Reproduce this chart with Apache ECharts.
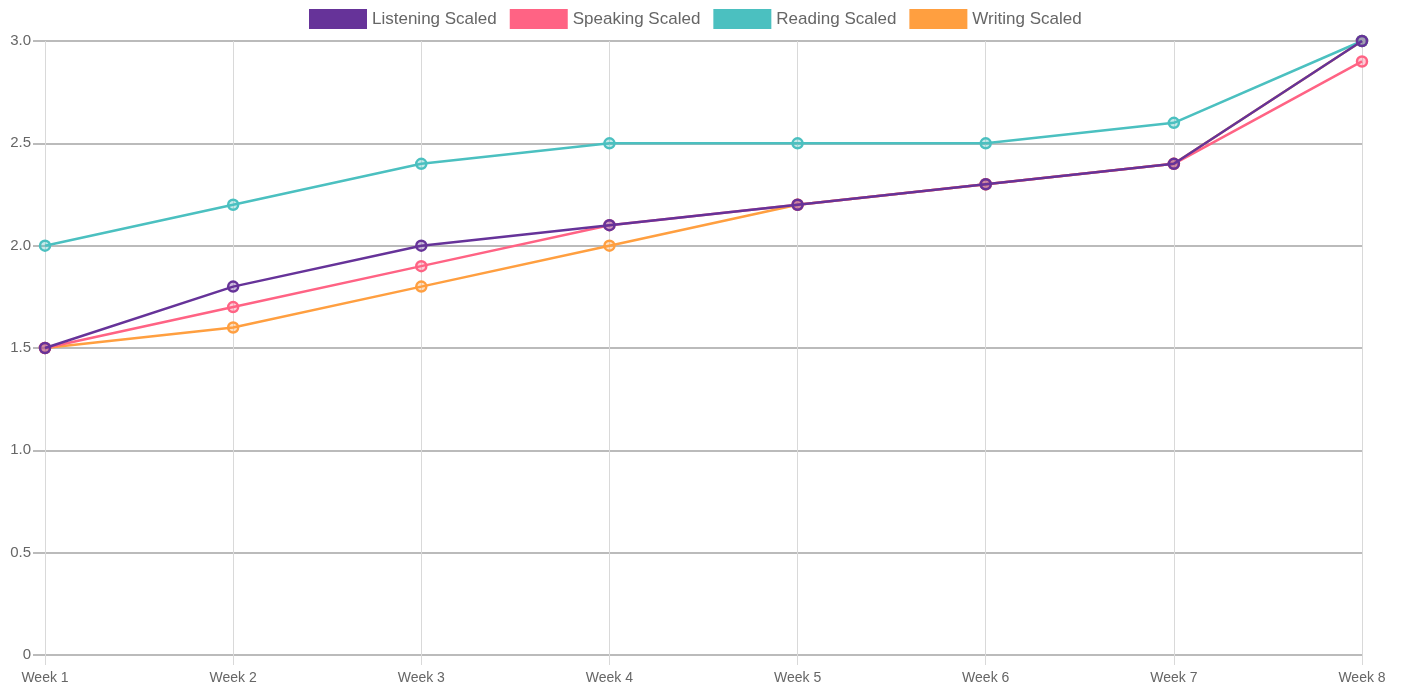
<!DOCTYPE html>
<html>
<head>
<meta charset="utf-8">
<script src="https://cdn.jsdelivr.net/npm/echarts@6/dist/echarts.min.js"></script>
<style>
  html, body { margin: 0; padding: 0; background: #fff; }
  #main { width: 1402px; height: 688px; }
</style>
</head>
<body>
<div id="main"></div>
<script>
// week labels and scaled scores
const weeks = ['Week 1', 'Week 2', 'Week 3', 'Week 4', 'Week 5', 'Week 6', 'Week 7', 'Week 8'];
const listening = [1.5, 1.8, 2.0, 2.1, 2.2, 2.3, 2.4, 3.0];
const speaking = [1.5, 1.7, 1.9, 2.1, 2.2, 2.3, 2.4, 2.9];
const reading = [2.0, 2.2, 2.4, 2.5, 2.5, 2.5, 2.6, 3.0];
const writing = [1.5, 1.6, 1.8, 2.0, 2.2, 2.3, 2.4, 3.0];

const names = ['Listening Scaled', 'Speaking Scaled', 'Reading Scaled', 'Writing Scaled'];
const colors = ['#663399', '#ff6384', '#4bc0c0', '#ff9f40'];
const values = [listening, speaking, reading, writing];

const font = 'Helvetica, "Liberation Sans", Arial, sans-serif';

function makeSeries(i) {
  return {
    name: names[i],
    type: 'line',
    data: values[i],
    z: 10 - i,
    symbol: 'circle',
    symbolSize: 10,
    lineStyle: { color: colors[i], width: 2.5 },
    itemStyle: { color: colors[i] + '55', borderColor: colors[i], borderWidth: 2.5 },
    emphasis: { disabled: true }
  };
}

const chart = echarts.init(document.getElementById('main'));
chart.setOption({
  animation: false,
  color: colors,
  legend: {
    top: 4,
    left: 304,
    itemWidth: 58,
    itemHeight: 20,
    itemGap: 13,
    icon: 'rect',
    textStyle: { fontFamily: font, fontSize: 17, color: '#666' },
    data: names.map((n, i) => ({ name: n, itemStyle: { color: colors[i], borderWidth: 0 } }))
  },
  grid: { left: 45, right: 40, top: 41, bottom: 33, containLabel: false },
  xAxis: {
    type: 'category',
    data: weeks,
    boundaryGap: false,
    axisLine: { show: false },
    axisTick: { show: true, length: 10, lineStyle: { color: '#d9d9d9' } },
    axisLabel: { fontFamily: font, fontSize: 14, color: '#666', margin: 16 },
    splitLine: { show: true, lineStyle: { color: '#d9d9d9', width: 1 } }
  },
  yAxis: {
    type: 'value',
    min: 0,
    max: 3,
    interval: 0.5,
    axisLine: { show: false },
    axisTick: { show: true, length: 12, lineStyle: { color: '#bbb', width: 2 } },
    axisLabel: {
      fontFamily: font, fontSize: 15, color: '#666', margin: 14,
      formatter: v => v === 0 ? '0' : v.toFixed(1)
    },
    splitLine: { show: true, lineStyle: { color: '#bbb', width: 2 } }
  },
  series: [0, 1, 2, 3].map(makeSeries)
});
</script>
</body>
</html>
